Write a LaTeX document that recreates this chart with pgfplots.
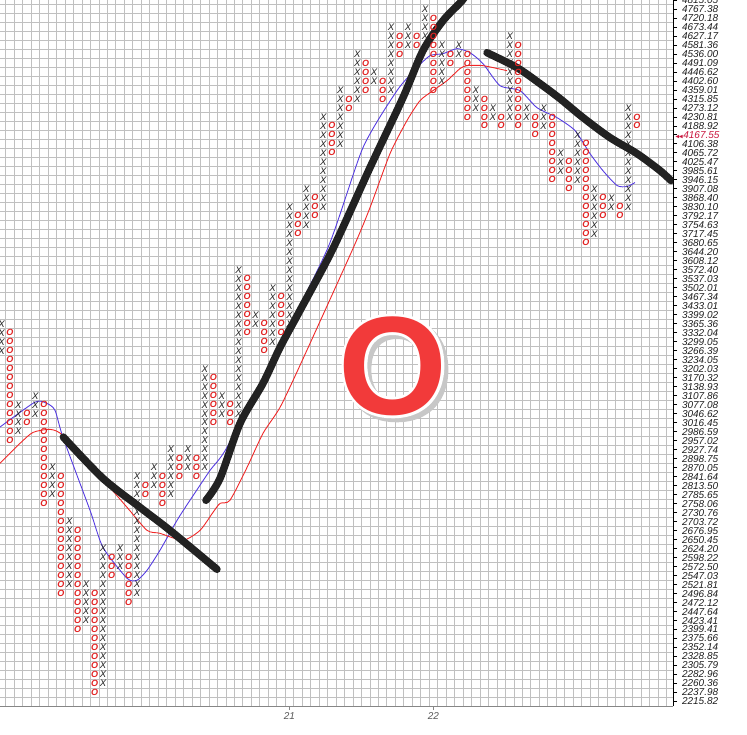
\documentclass[border=0pt]{standalone}
\usepackage{pgfplots}
\pgfplotsset{compat=1.18}
\usepackage{fontspec}
\setmainfont{Liberation Sans}
\usepackage{amssymb}
\usepackage{graphicx}
\definecolor{gridc}{RGB}{192,192,192}
\definecolor{ored}{RGB}{225,35,35}
\definecolor{bigred}{RGB}{242,58,58}
\definecolor{curred}{RGB}{200,20,60}
\definecolor{mablue}{RGB}{85,60,225}
\definecolor{mared}{RGB}{240,40,40}
\definecolor{tline}{RGB}{34,34,34}
\definecolor{lab}{RGB}{30,30,30}
\begin{document}
\begin{tikzpicture}
\begin{axis}[
  at={(0,0)}, anchor=south west,
  scale only axis, width=673pt, height=706pt,
  xmin=-0.177, xmax=79.28, ymin=-0.5, ymax=78,
  axis x line*=bottom, axis y line*=right,
  x axis line style={gridc!70!black, line width=0.8pt},
  y axis line style={black, line width=0.8pt},
  xtick={34,51}, xticklabels={21,22},
  ytick={0,...,78},
  yticklabels={2215.82,2237.98,2260.36,2282.96,2305.79,2328.85,2352.14,2375.66,2399.41,2423.41,2447.64,2472.12,2496.84,2521.81,2547.03,2572.50,2598.22,2624.20,2650.45,2676.95,2703.72,2730.76,2758.06,2785.65,2813.50,2841.64,2870.05,2898.75,2927.74,2957.02,2986.59,3016.45,3046.62,3077.08,3107.86,3138.93,3170.32,3202.03,3234.05,3266.39,3299.05,3332.04,3365.36,3399.02,3433.01,3467.34,3502.01,3537.03,3572.40,3608.12,3644.20,3680.65,3717.45,3754.63,3792.17,3830.10,3868.40,3907.08,3946.15,3985.61,4025.47,4065.72,4106.38,{\hspace*{-7pt}\color{curred}\scalebox{0.6}{$\blacktriangleleft\!\blacktriangleleft$}4167.55},4188.92,4230.81,4273.12,4315.85,4359.01,4402.60,4446.62,4491.09,4536.00,4581.36,4627.17,4673.44,4720.18,4767.38,4815.05},
  minor xtick={-0.5,0.5,...,79.5},
  minor ytick={-0.5,0.5,...,78.5},
  grid=minor,
  minor grid style={gridc, line width=0.8pt},
  minor tick length=0pt,
  major tick length=4pt,
  tick align=outside,
  xtick style={color=gridc!70!black, line width=0.8pt},
  ytick style={color=black, line width=0.8pt},
  yticklabel style={font=\itshape\fontsize{10}{10}\selectfont, text=lab, anchor=west, xshift=1.5pt},
  xticklabel style={font=\itshape\fontsize{10}{10}\selectfont, text=gray!70!black, yshift=1pt},
]
% X columns
\addplot[only marks, mark=text, text mark={X}, text mark as node=true,
  text mark style={font=\itshape\fontsize{9.6}{10}\selectfont, text=tline, inner sep=0pt, anchor=center}]
coordinates {
(0,39)(0,40)(0,41)(0,42)
(2,30)(2,31)(2,32)(2,33)
(4,32)(4,33)(4,34)
(6,23)(6,24)(6,25)(6,26)
(8,13)(8,14)(8,15)(8,16)(8,17)(8,18)(8,19)(8,20)
(10,9)(10,10)(10,11)(10,12)(10,13)
(12,2)(12,3)(12,4)(12,5)(12,6)(12,7)(12,8)(12,9)(12,10)(12,11)(12,12)(12,13)(12,14)(12,15)(12,16)(12,17)
(14,15)(14,16)(14,17)
(16,12)(16,13)(16,14)(16,15)(16,16)(16,17)(16,18)(16,19)(16,20)(16,21)(16,22)(16,23)(16,24)(16,25)
(18,24)(18,25)(18,26)
(20,23)(20,24)(20,25)(20,26)(20,27)(20,28)
(22,26)(22,27)(22,28)
(24,26)(24,27)(24,28)(24,29)(24,30)(24,31)(24,32)(24,33)(24,34)(24,35)(24,36)(24,37)
(26,32)(26,33)(26,34)
(28,32)(28,33)(28,34)(28,35)(28,36)(28,37)(28,38)(28,39)(28,40)(28,41)(28,42)(28,43)(28,44)(28,45)(28,46)(28,47)(28,48)
(30,42)(30,43)
(32,40)(32,41)(32,42)(32,43)(32,44)(32,45)(32,46)
(34,42)(34,43)(34,44)(34,45)(34,46)(34,47)(34,48)(34,49)(34,50)(34,51)(34,52)(34,53)(34,54)(34,55)
(36,53)(36,54)(36,55)(36,56)(36,57)
(38,55)(38,56)(38,57)(38,58)(38,59)(38,60)(38,61)(38,62)(38,63)(38,64)(38,65)
(40,62)(40,63)(40,64)(40,65)(40,66)(40,67)(40,68)
(42,67)(42,68)(42,69)(42,70)(42,71)(42,72)
(44,69)(44,70)
(46,68)(46,69)(46,70)(46,71)(46,72)(46,73)(46,74)(46,75)
(48,73)(48,74)(48,75)
(50,74)(50,75)(50,76)(50,77)
(52,69)(52,70)(52,71)(52,72)(52,73)
(54,72)(54,73)
(56,66)(56,67)(56,68)
(58,65)(58,66)
(60,65)(60,66)(60,67)(60,68)(60,69)(60,70)(60,71)(60,72)(60,73)(60,74)
(62,65)(62,66)
(64,64)(64,65)(64,66)
(66,59)(66,60)(66,61)
(68,58)(68,59)(68,60)(68,61)(68,62)(68,63)
(70,52)(70,53)(70,54)(70,55)(70,56)(70,57)
(72,55)(72,56)
(74,55)(74,56)(74,57)(74,58)(74,59)(74,60)(74,61)(74,62)(74,63)(74,64)(74,65)(74,66)
};
% O columns
\addplot[only marks, mark=text, text mark={O}, text mark as node=true,
  text mark style={font=\bfseries\itshape\fontsize{9}{10}\selectfont, text=ored, inner sep=0pt, anchor=center}]
coordinates {
(1,29)(1,30)(1,31)(1,32)(1,33)(1,34)(1,35)(1,36)(1,37)(1,38)(1,39)(1,40)(1,41)
(3,31)(3,32)
(5,22)(5,23)(5,24)(5,25)(5,26)(5,27)(5,28)(5,29)(5,30)(5,31)(5,32)(5,33)
(7,12)(7,13)(7,14)(7,15)(7,16)(7,17)(7,18)(7,19)(7,20)(7,21)(7,22)(7,23)(7,24)(7,25)
(9,8)(9,9)(9,10)(9,11)(9,12)(9,13)(9,14)(9,15)(9,16)(9,17)(9,18)(9,19)
(11,1)(11,2)(11,3)(11,4)(11,5)(11,6)(11,7)(11,8)(11,9)(11,10)(11,11)(11,12)
(13,14)(13,15)(13,16)
(15,11)(15,12)(15,13)(15,14)(15,15)(15,16)
(17,23)(17,24)
(19,22)(19,23)(19,24)(19,25)
(21,25)(21,26)(21,27)
(23,25)(23,26)(23,27)
(25,31)(25,32)(25,33)(25,34)(25,35)(25,36)
(27,31)(27,32)(27,33)
(29,41)(29,42)(29,43)(29,44)(29,45)(29,46)(29,47)
(31,39)(31,40)(31,41)(31,42)
(33,41)(33,42)(33,43)(33,44)(33,45)
(35,52)(35,53)(35,54)
(37,54)(37,55)(37,56)
(39,61)(39,62)(39,63)(39,64)
(41,66)(41,67)
(43,68)(43,69)(43,70)(43,71)
(45,67)(45,68)(45,69)
(47,72)(47,73)(47,74)
(49,73)(49,74)
(51,68)(51,69)(51,70)(51,71)(51,72)(51,73)(51,74)(51,75)(51,76)
(53,71)(53,72)
(55,65)(55,66)(55,67)(55,68)(55,69)(55,70)(55,71)(55,72)
(57,64)(57,65)(57,66)(57,67)
(59,64)(59,65)
(61,64)(61,65)(61,66)(61,67)(61,68)(61,69)(61,70)(61,71)(61,72)(61,73)
(63,63)(63,64)(63,65)
(65,58)(65,59)(65,60)(65,61)(65,62)(65,63)(65,64)(65,65)
(67,57)(67,58)(67,59)(67,60)
(69,51)(69,52)(69,53)(69,54)(69,55)(69,56)(69,57)(69,58)(69,59)(69,60)(69,61)(69,62)
(71,54)(71,55)(71,56)
(73,54)(73,55)
(75,64)(75,65)
};
% moving averages
\addplot[mablue, line width=0.9pt, smooth, tension=0.4] coordinates {
(-0.2,30.5)(3.96,33.29)(5.37,33.14)(6.32,32.37)(7.26,29.37)(10.45,21.26)(11.98,17.14)(14.82,13.7)(16.0,13.48)(17.18,14.59)(18.71,16.81)(20.72,20.14)(22.25,22.37)(24.62,25.7)(26.62,28.26)(32.53,39.03)(38.55,50.48)(42.68,61.59)(46.69,67.92)(49.06,70.48)(50.59,71.81)(52.13,72.03)(53.78,72.59)(55.31,72.14)(56.85,70.92)(58.85,68.48)(61.22,67.92)(63.22,66.03)(65.58,64.92)(67.71,63.48)(69.48,60.92)(71.0,59.03)(72.67,57.37)(73.85,57.26)(74.79,57.7)
};
\addplot[mared, line width=0.9pt, smooth, tension=0.4] coordinates {
(-0.2,26.48)(2.18,28.7)(3.72,29.92)(5.73,30.26)(7.26,29.59)(11.04,25.7)(14.82,21.59)(17.18,19.03)(18.71,18.7)(21.43,17.92)(23.44,19.03)(24.97,21.03)(25.8,22.03)(26.97,22.37)(28.99,26.03)(30.87,29.81)(32.88,32.7)(35.24,37.37)(41.5,50.37)(43.51,54.92)(45.87,60.92)(47.87,64.59)(49.41,66.81)(50.94,67.92)(52.6,69.03)(54.13,70.37)(54.96,70.7)(56.85,70.7)(59.68,70.14)
};
% trend lines
\addplot[tline, line width=7.5pt, line cap=round, line join=round, smooth, tension=0.5] coordinates {
(7.3,29.4)(11.98,24.81)(16.35,21.59)(19.89,19.03)(25.44,14.7)
};
\addplot[tline, line width=7.5pt, line cap=round, line join=round, smooth, tension=0.5] coordinates {
(24.14,22.37)(25.80,24.81)(28.16,30.92)(30.87,35.37)(32.88,39.37)(35.24,43.48)(39.14,50.37)(43.51,59.37)(47.40,67.14)(49.76,72.37)(52.13,75.7)(54.37,77.92)(55.3,79.25)
};
\addplot[tline, line width=7.5pt, line cap=round, line join=round, smooth, tension=0.5] coordinates {
(57.32,72.14)(60.86,70.48)(63.58,68.7)(65.94,67.03)(68.66,64.92)(71.84,62.7)(75.03,60.92)(77.75,59.03)(79.04,57.92)
};
% big column-type letter (shadow, white rim and red letter stacked in one node)
\node[inner sep=0pt] at (axis cs:46.22,37.09) {\fontsize{140}{140}\selectfont\bfseries
  \rlap{\hspace*{4pt}\raisebox{-4pt}{\color{black!22}\addfontfeature{FakeBold=4}O}}%
  \rlap{\color{white}\addfontfeature{FakeBold=4}O}%
  {\color{bigred}O}};
\end{axis}
\pgfresetboundingbox
\useasboundingbox (0,-28pt) rectangle (747pt,706pt);
\end{tikzpicture}
\end{document}
